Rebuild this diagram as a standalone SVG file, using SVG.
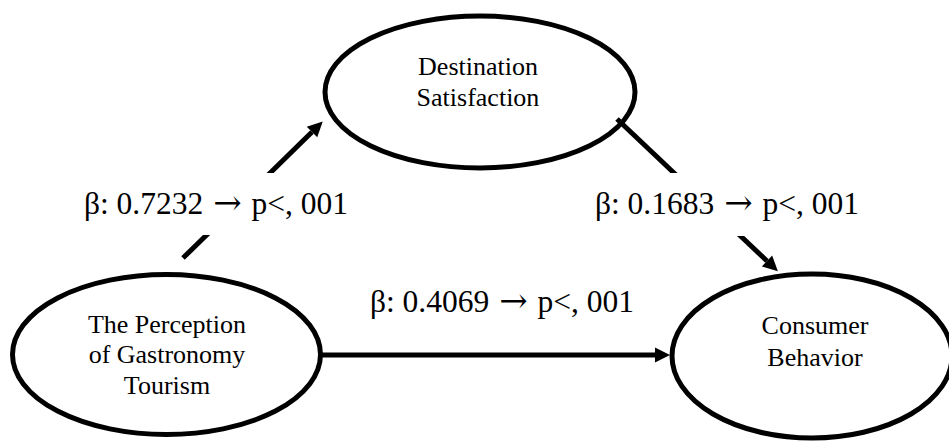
<svg xmlns="http://www.w3.org/2000/svg" width="949" height="442" viewBox="0 0 949 442">
<style>
.node ellipse{fill:#fff;stroke:#000;stroke-width:5}
text{font-family:'Liberation Serif','Times New Roman',serif;fill:#000;text-anchor:middle}
.nt{font-size:26px}
.et{font-size:31.5px}
.ar{font-family:'DejaVu Serif',serif;font-size:34px}
.conn line{stroke:#000;stroke-width:5}
</style>
<defs>
<marker id="ah" markerUnits="userSpaceOnUse" markerWidth="16" markerHeight="16" refX="0" refY="8" orient="auto" overflow="visible">
<path d="M0,0.5 L15,8 L0,15.5 z" fill="#000"/>
</marker>
</defs>
<rect width="949" height="442" fill="#fff"/>
<g id="node-destination" class="node">
<ellipse cx="480" cy="92" rx="155" ry="76"/>
<text class="nt" x="478" y="75">Destination</text>
<text class="nt" x="478" y="106">Satisfaction</text>
</g>
<g id="node-perception" class="node">
<ellipse cx="166.5" cy="354.5" rx="154" ry="80"/>
<text class="nt" x="167" y="333">The Perception</text>
<text class="nt" x="167" y="363">of Gastronomy</text>
<text class="nt" x="167" y="394">Tourism</text>
</g>
<g id="node-consumer" class="node">
<ellipse cx="812" cy="356" rx="140" ry="82"/>
<text class="nt" x="815" y="334">Consumer</text>
<text class="nt" x="815" y="366">Behavior</text>
</g>
<g id="connectors" class="conn">
<line x1="183" y1="258" x2="312" y2="132" marker-end="url(#ah)"/>
<line x1="617" y1="119" x2="767" y2="261" marker-end="url(#ah)"/>
<line x1="322" y1="355" x2="655" y2="355" marker-end="url(#ah)"/>
<rect x="80" y="173" width="272" height="62" fill="#fff"/>
<rect x="592" y="173" width="272" height="63" fill="#fff"/>
<text class="et" x="216" y="214">β: 0.7232 <tspan class="ar" dx="2">→</tspan><tspan dx="2"> p&lt;, 001</tspan></text>
<text class="et" x="727" y="214">β: 0.1683 <tspan class="ar" dx="2">→</tspan><tspan dx="2"> p&lt;, 001</tspan></text>
<text class="et" x="502" y="312">β: 0.4069 <tspan class="ar" dx="2">→</tspan><tspan dx="2"> p&lt;, 001</tspan></text>
</g>
</svg>
